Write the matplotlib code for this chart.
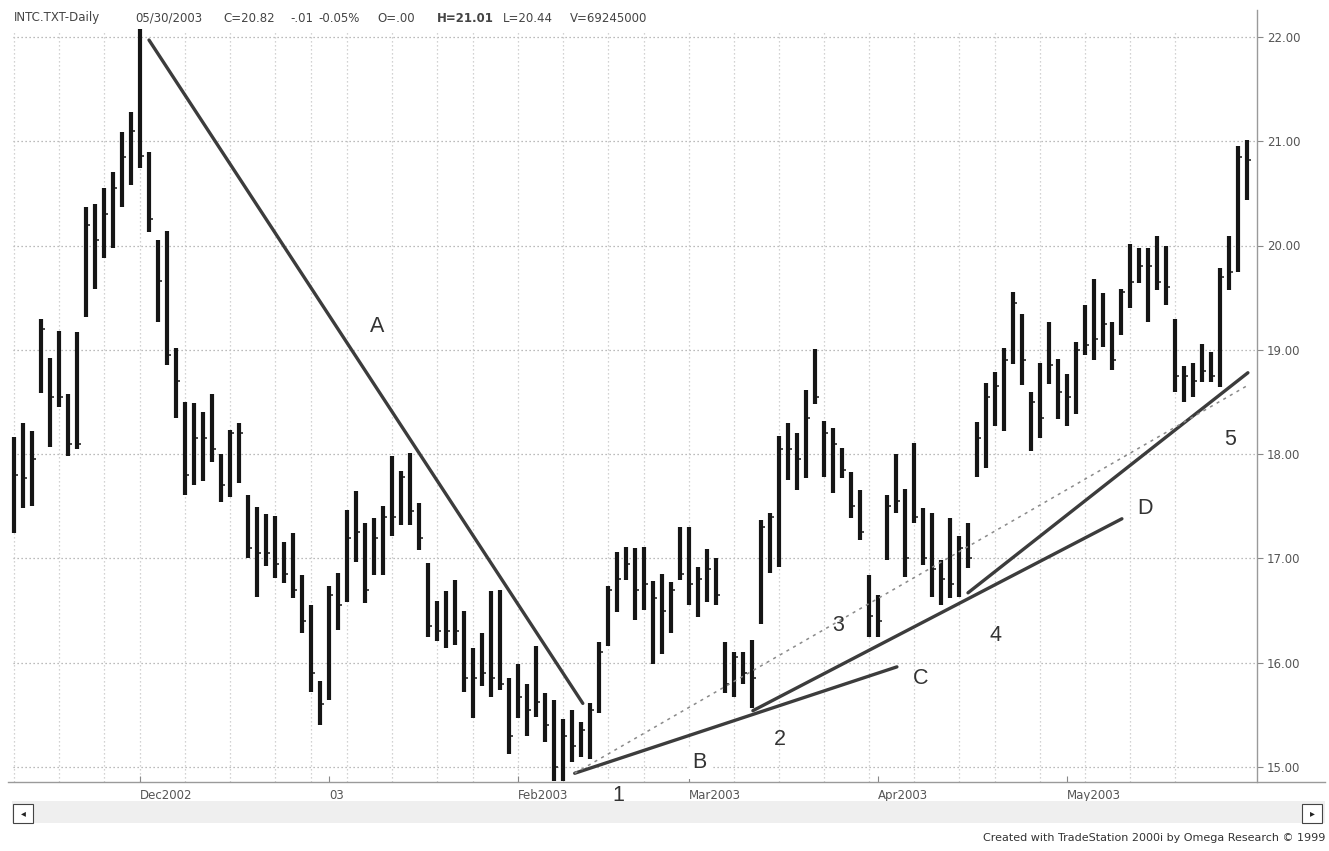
import matplotlib
matplotlib.use("Agg")
import matplotlib.pyplot as plt
from matplotlib.lines import Line2D
from matplotlib.patches import Rectangle
import numpy as np

# ---------------- data ----------------
highs = [18.16, 18.30, 18.22, 19.30, 18.92, 19.18, 18.58, 19.17, 20.37, 20.40,
         20.55, 20.70, 21.09, 21.28, 22.08, 20.90, 20.05, 20.14, 19.02, 18.50,
         18.49, 18.40, 18.58, 18.00, 18.23, 18.30, 17.61, 17.49, 17.43, 17.41,
         17.16, 17.24, 16.84, 16.55, 15.82, 16.74, 16.86, 17.46, 17.65, 17.34,
         17.39, 17.50, 17.98, 17.84, 18.01, 17.53, 16.96, 16.59, 16.69, 16.79,
         16.50, 16.14, 16.28, 16.69, 16.70, 15.85, 15.99, 15.80, 16.16, 15.71,
         15.64, 15.46, 15.55, 15.43, 15.61, 16.20, 16.74, 17.06, 17.11, 17.10,
         17.11, 16.78, 16.85, 16.77, 17.30, 17.30, 16.92, 17.09, 17.00, 16.20,
         16.10, 16.10, 16.22, 17.37, 17.44, 18.17, 18.30, 18.20, 18.61, 19.01,
         18.32, 18.25, 18.06, 17.83, 17.66, 16.84, 16.65, 17.61, 18.00, 17.67,
         18.11, 17.48, 17.44, 16.98, 17.39, 17.21, 17.34, 18.31, 18.68, 18.79,
         19.02, 19.55, 19.34, 18.60, 18.87, 19.27, 18.91, 18.77, 19.07, 19.43,
         19.68, 19.54, 19.27, 19.58, 20.01, 19.98, 19.98, 20.09, 20.00, 19.30,
         18.84, 18.87, 19.06, 18.98, 19.78, 20.09, 20.95, 21.01]
lows = [17.24, 17.48, 17.50, 18.59, 18.07, 18.45, 17.98, 18.05, 19.31, 19.58,
        19.88, 19.98, 20.37, 20.58, 20.74, 20.13, 19.27, 18.85, 18.35, 17.61,
        17.70, 17.74, 17.92, 17.54, 17.59, 17.72, 17.00, 16.63, 16.93, 16.81,
        16.76, 16.62, 16.28, 15.72, 15.40, 15.64, 16.31, 16.58, 16.97, 16.57,
        16.84, 16.84, 17.21, 17.32, 17.32, 17.08, 16.25, 16.21, 16.14, 16.17,
        15.72, 15.47, 15.78, 15.67, 15.74, 15.12, 15.47, 15.30, 15.48, 15.24,
        14.87, 14.87, 15.05, 15.10, 15.08, 15.52, 16.16, 16.49, 16.79, 16.41,
        16.51, 15.99, 16.08, 16.28, 16.79, 16.55, 16.44, 16.58, 16.55, 15.71,
        15.67, 15.80, 15.57, 16.37, 16.86, 16.92, 17.75, 17.66, 17.77, 18.48,
        17.78, 17.63, 17.77, 17.39, 17.18, 16.25, 16.25, 16.98, 17.44, 16.82,
        17.34, 16.94, 16.63, 16.55, 16.62, 16.63, 16.91, 17.78, 17.87, 18.27,
        18.22, 18.86, 18.66, 18.03, 18.15, 18.67, 18.34, 18.27, 18.38, 18.95,
        18.90, 19.03, 18.81, 19.14, 19.40, 19.64, 19.27, 19.57, 19.43, 18.60,
        18.50, 18.55, 18.69, 18.69, 18.64, 19.57, 19.75, 20.44]
closes = [17.80, 17.77, 17.95, 19.20, 18.55, 18.55, 18.10, 18.10, 20.20, 20.05,
          20.30, 20.55, 20.85, 21.10, 20.86, 20.25, 19.66, 18.95, 18.70, 17.80,
          18.15, 18.15, 18.05, 17.70, 18.20, 18.20, 17.10, 17.05, 17.05, 16.95,
          16.85, 16.70, 16.40, 15.90, 15.60, 16.65, 16.55, 17.20, 17.25, 16.70,
          17.20, 17.40, 17.40, 17.78, 17.45, 17.20, 16.35, 16.30, 16.30, 16.30,
          15.85, 15.85, 15.90, 15.85, 15.80, 15.30, 15.67, 15.55, 15.62, 15.40,
          15.00, 15.30, 15.20, 15.35, 15.55, 16.10, 16.70, 16.80, 16.95, 16.70,
          16.75, 16.62, 16.50, 16.70, 16.85, 16.75, 16.80, 16.90, 16.65, 15.80,
          16.05, 15.90, 15.85, 17.30, 17.40, 18.05, 18.05, 17.95, 18.35, 18.55,
          18.20, 18.10, 17.85, 17.50, 17.25, 16.45, 16.40, 17.50, 17.55, 17.00,
          17.40, 17.00, 16.90, 16.80, 16.75, 17.10, 17.00, 18.15, 18.55, 18.65,
          18.90, 19.45, 18.90, 18.50, 18.35, 18.85, 18.60, 18.55, 19.00, 19.05,
          19.10, 19.25, 18.90, 19.55, 19.65, 19.80, 19.80, 19.65, 19.60, 18.75,
          18.75, 18.70, 18.80, 18.75, 19.70, 19.75, 20.85, 20.82]

month_idx = [14, 35, 56, 75, 96, 117]
month_labels = ["Dec2002", "03", "Feb2003", "Mar2003", "Apr2003", "May2003"]
week_idx = [0, 5, 10, 14, 19, 24, 29, 33, 37, 42, 47, 51, 56, 61, 66, 70, 75,
            80, 85, 90, 95, 100, 105, 109, 114, 119, 124, 129]
price_ticks = [15, 16, 17, 18, 19, 20, 21, 22]

# trend lines: (x0, y0, x1, y1) in bar index / price
trend_A = (15.0, 21.97, 63.2, 15.61)
trend_BC = (62.3, 14.94, 98.1, 15.96)
trend_D = (82.1, 15.54, 123.1, 17.38)
trend_5 = (106.0, 16.67, 137.1, 18.78)
trend_dotted = (62.3, 14.94, 137.1, 18.66)

labels_txt = ["A", "B", "1", "2", "3", "C", "4", "D", "5"]
labels_x = [40.4, 76.2, 67.1, 85.1, 91.6, 100.7, 109.0, 125.7, 135.1]
labels_y = [19.22, 15.04, 14.73, 15.26, 16.36, 15.85, 16.26, 17.48, 18.14]

# ---------------- figure ----------------
W, H = 1329, 851
fig = plt.figure(figsize=(W / 100, H / 100), dpi=100)
fig.patch.set_facecolor("white")

def px(x, y):
    return x / W, 1 - y / H

ax_l, ax_r, ax_t, ax_b = 8, 1257, 25, 782
ax = fig.add_axes([ax_l / W, 1 - ax_b / H, (ax_r - ax_l) / W, (ax_b - ax_t) / H])
ax.set_facecolor("white")

x0 = (ax_l - 14) / 9.0
x1 = (ax_r - 14) / 9.0
y0 = 15 + (767 - ax_b) / 104.3
y1 = 15 + (767 - ax_t) / 104.3
ax.set_xlim(x0, x1)
ax.set_ylim(y0, y1)

narrow = ["Liberation Sans Narrow", "DejaVu Sans"]
sans = ["Liberation Sans", "DejaVu Sans"]

# grid
dot = (0, (1, 2.2))
ax.hlines(price_ticks, x0 + 0.6, x1, colors="#a5a5a5", linestyles=dot, lw=0.9, zorder=1)
ax.vlines(week_idx, y0, y1 - 0.06, colors="#c4c4c4", linestyles=dot, lw=0.9, zorder=1)

# bars
idx = np.arange(len(highs))
ax.vlines(idx, lows, highs, colors="#151515", lw=3.0, zorder=3, capstyle="butt")
ax.hlines(closes, idx, idx + 0.45, colors="#151515", lw=1.1, zorder=3)

# trend lines
for (a, b, c, d) in [trend_A, trend_BC, trend_D, trend_5]:
    ax.plot([a, c], [b, d], color="#3c3c3c", lw=2.4, solid_capstyle="round", zorder=4)
a, b, c, d = trend_dotted
ax.plot([a, c], [b, d], color="#8a8a8a", lw=1.1, ls=(0, (2, 3)), zorder=4)

# labels
for t, lx, ly in zip(labels_txt, labels_x, labels_y):
    kw = {}
    if t in ("1", "B"):
        kw["bbox"] = dict(facecolor="white", edgecolor="none", pad=4)
    ax.text(lx, ly, t, ha="center", va="center", fontsize=15.5, color="#333333",
            family=sans, zorder=6, clip_on=False, **kw)

# axes styling
for s in ["top", "left", "right", "bottom"]:
    ax.spines[s].set_visible(False)
ax.yaxis.tick_right()
ax.set_yticks(price_ticks, [f"{p:.2f}" for p in price_ticks])
ax.tick_params(axis="y", right=True, left=False, length=4, width=0.8, color="#888888",
               pad=3, labelsize=8.5, labelcolor="#555555")
ax.set_xticks(month_idx, month_labels)
ax.tick_params(axis="x", length=4, width=0.8, color="#888888", pad=5,
               labelsize=8.5, labelcolor="#555555", direction="in")
for lab in ax.get_xticklabels():
    lab.set_ha("left")
    lab.set_family(narrow)
for lab in ax.get_yticklabels():
    lab.set_family(narrow)

# frame lines
fig.add_artist(Line2D([ax_r / W, ax_r / W], [1 - 10 / H, 1 - ax_b / H], color="#9a9a9a", lw=1.0))
fig.add_artist(Line2D([ax_l / W, 1325 / W], [1 - ax_b / H, 1 - ax_b / H], color="#9a9a9a", lw=1.0))

# scrollbar
fig.add_artist(Rectangle(px(12, 823), (1325 - 12) / W, 22 / H, transform=fig.transFigure,
                         facecolor="#efefef", edgecolor="none"))
fig.add_artist(Rectangle(px(13, 823), 20 / W, 19 / H, transform=fig.transFigure,
                         facecolor="white", edgecolor="#444444", lw=0.8))
fig.text(*px(23, 813), "◂", ha="center", va="center", fontsize=7, color="#222222", family="DejaVu Sans")
fig.add_artist(Rectangle(px(1302, 823), 20 / W, 19 / H, transform=fig.transFigure,
                         facecolor="white", edgecolor="#444444", lw=0.8))
fig.text(*px(1312, 813), "▸", ha="center", va="center", fontsize=7, color="#222222", family="DejaVu Sans")

# header
hdr = [(14, "INTC.TXT-Daily", "normal"), (135, "05/30/2003", "normal"),
       (223, "C=20.82", "normal"), (290, "-.01", "normal"), (318, "-0.05%", "normal"),
       (377, "O=.00", "normal"), (437, "H=21.01", "bold"), (503, "L=20.44", "normal"),
       (570, "V=69245000", "normal")]
for hx, ht, hw in hdr:
    fig.text(*px(hx, 18), ht, ha="left", va="center", fontsize=8.5, color="#444444",
             family=narrow, weight=hw)

fig.text(*px(1325, 838), "Created with TradeStation 2000i by Omega Research © 1999",
         ha="right", va="center", fontsize=8, color="#333333", family=narrow)

fig.savefig("out.png", dpi=100)
